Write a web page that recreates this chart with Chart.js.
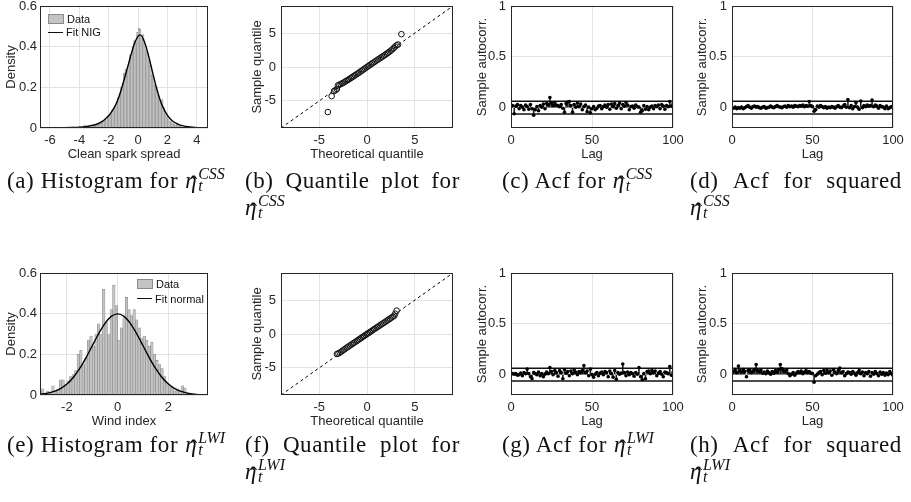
<!DOCTYPE html>
<html>
<head>
<meta charset="utf-8">
<script src="https://cdn.jsdelivr.net/npm/chart.js@4.4.1/dist/chart.umd.min.js"></script>
<style>
  html, body { margin: 0; padding: 0; background: #fff; }
  body { width: 911px; height: 502px; overflow: hidden; position: relative; }
  .pane { position: absolute; }
  .cap { position: absolute; font-family: 'Liberation Serif', 'Times New Roman', serif; font-size: 23px; line-height: 27px; letter-spacing: 0.6px; color: #111; white-space: nowrap; }
  .cap .j { display: flex; justify-content: space-between; }
  .eta { font-style: italic; position: relative; margin-left: 7px; }
  .eta .hat { position: absolute; left: 4.5px; top: 3px; font-style: normal; }
  .ss { display: inline-block; vertical-align: -3px; font-size: 16px; line-height: 12px; font-style: italic; letter-spacing: 0; margin-left: 1px; }
  .ss span { display: block; }
  .leg { position: absolute; font-family: 'Liberation Sans', Arial, sans-serif; font-size: 11px; color: #111; z-index: 5; }
  .leg .li { display: flex; align-items: center; }
  .leg .sw { width: 14px; height: 8px; background: #c4c4c4; border: 0.6px solid #8a8a8a; margin-right: 3px; }
  .leg .ln { width: 15px; height: 1.3px; background: #111; margin-right: 3px; }
</style>
</head>
<body>

<canvas class="pane" id="cA" width="228" height="174" style="left:0px;top:-8px"></canvas>
<canvas class="pane" id="cB" width="227" height="174" style="left:246px;top:-8px"></canvas>
<canvas class="pane" id="cC" width="222" height="174" style="left:471px;top:-8px"></canvas>
<canvas class="pane" id="cD" width="222" height="174" style="left:691px;top:-8px"></canvas>
<canvas class="pane" id="cE" width="228" height="174" style="left:0px;top:259px"></canvas>
<canvas class="pane" id="cF" width="227" height="174" style="left:246px;top:259px"></canvas>
<canvas class="pane" id="cG" width="222" height="174" style="left:471px;top:259px"></canvas>
<canvas class="pane" id="cH" width="222" height="174" style="left:691px;top:259px"></canvas>

<div class="leg" style="left:48px;top:12px">
  <div class="li" style="height:13.5px"><span class="sw"></span>Data</div>
  <div class="li" style="height:13.5px"><span class="ln"></span>Fit NIG</div>
</div>
<div class="leg" style="left:137px;top:277px">
  <div class="li" style="height:14.5px"><span class="sw"></span>Data</div>
  <div class="li" style="height:14.5px"><span class="ln"></span>Fit normal</div>
</div>

<div class="cap" style="left:7px;top:167px">(a) Histogram for<span class="eta">η<span class="hat">ˆ</span></span><span class="ss"><span>CSS</span><span>t</span></span></div>
<div class="cap" style="left:245px;top:167px;width:215px">
  <div class="j"><span>(b)</span><span>Quantile</span><span>plot</span><span>for</span></div>
  <div><span class="eta" style="margin-left:0">η<span class="hat">ˆ</span></span><span class="ss"><span>CSS</span><span>t</span></span></div>
</div>
<div class="cap" style="left:502px;top:167px">(c) Acf for<span class="eta">η<span class="hat">ˆ</span></span><span class="ss"><span>CSS</span><span>t</span></span></div>
<div class="cap" style="left:690px;top:167px;width:212px">
  <div class="j"><span>(d)</span><span>Acf</span><span>for</span><span>squared</span></div>
  <div><span class="eta" style="margin-left:0">η<span class="hat">ˆ</span></span><span class="ss"><span>CSS</span><span>t</span></span></div>
</div>

<div class="cap" style="left:7px;top:431px">(e) Histogram for<span class="eta">η<span class="hat">ˆ</span></span><span class="ss"><span>LWI</span><span>t</span></span></div>
<div class="cap" style="left:245px;top:431px;width:215px">
  <div class="j"><span>(f)</span><span>Quantile</span><span>plot</span><span>for</span></div>
  <div><span class="eta" style="margin-left:0">η<span class="hat">ˆ</span></span><span class="ss"><span>LWI</span><span>t</span></span></div>
</div>
<div class="cap" style="left:502px;top:431px">(g) Acf for<span class="eta">η<span class="hat">ˆ</span></span><span class="ss"><span>LWI</span><span>t</span></span></div>
<div class="cap" style="left:690px;top:431px;width:212px">
  <div class="j"><span>(h)</span><span>Acf</span><span>for</span><span>squared</span></div>
  <div><span class="eta" style="margin-left:0">η<span class="hat">ˆ</span></span><span class="ss"><span>LWI</span><span>t</span></span></div>
</div>

<script>
// ---- data ----
const histCssCenters = [-4.45,-3.65,-3.35,-3.05,-2.95,-2.85,-2.75,-2.65,-2.55,-2.45,-2.35,-2.25,-2.15,-2.05,-1.95,-1.85,-1.75,-1.65,-1.55,-1.45,-1.35,-1.25,-1.15,-1.05,-0.95,-0.85,-0.75,-0.65,-0.55,-0.45,-0.35,-0.25,-0.15,-0.05,0.05,0.15,0.25,0.35,0.45,0.55,0.65,0.75,0.85,0.95,1.05,1.15,1.25,1.35,1.45,1.55,1.65,1.75,1.85,1.95,2.05,2.15,2.25,2.35,2.45,2.55,2.65,2.75,2.85,2.95];
const histCssDensity = [0.006,0.016,0.008,0.008,0.010,0.012,0.015,0.020,0.025,0.030,0.038,0.045,0.040,0.060,0.065,0.070,0.090,0.100,0.110,0.130,0.150,0.170,0.200,0.220,0.270,0.290,0.280,0.310,0.360,0.350,0.400,0.430,0.420,0.470,0.490,0.485,0.440,0.460,0.410,0.380,0.370,0.330,0.310,0.260,0.250,0.210,0.200,0.160,0.140,0.125,0.140,0.100,0.070,0.060,0.045,0.035,0.030,0.025,0.020,0.015,0.020,0.018,0.010,0.006];
const fitNigX = [-6.7,-6,-5.5,-5,-4.5,-4,-3.5,-3,-2.75,-2.5,-2.25,-2,-1.75,-1.5,-1.25,-1,-0.75,-0.5,-0.25,0,0.1,0.25,0.5,0.75,1,1.25,1.5,1.75,2,2.25,2.5,2.75,3,3.5,4,4.75];
const fitNigY = [0,0.0003,0.0006,0.0012,0.0022,0.004,0.008,0.015,0.021,0.03,0.043,0.06,0.085,0.118,0.165,0.225,0.29,0.355,0.415,0.452,0.458,0.452,0.41,0.345,0.27,0.198,0.138,0.094,0.062,0.041,0.027,0.018,0.012,0.005,0.002,0.0006];

const histLwiCenters = [-3.05,-2.95,-2.85,-2.75,-2.65,-2.55,-2.45,-2.35,-2.25,-2.15,-2.05,-1.95,-1.85,-1.75,-1.65,-1.55,-1.45,-1.35,-1.25,-1.15,-1.05,-0.95,-0.85,-0.75,-0.65,-0.55,-0.45,-0.35,-0.25,-0.15,-0.05,0.05,0.15,0.25,0.35,0.45,0.55,0.65,0.75,0.85,0.95,1.05,1.15,1.25,1.35,1.45,1.55,1.65,1.75,1.85,1.95,2.05,2.15,2.25,2.35,2.45,2.55,2.65,2.75];
const histLwiDensity = [0.02,0.03,0.01,0.02,0.01,0.045,0.02,0.03,0.075,0.075,0.05,0.07,0.09,0.10,0.12,0.20,0.22,0.15,0.18,0.27,0.29,0.24,0.30,0.35,0.30,0.52,0.36,0.30,0.42,0.54,0.44,0.27,0.33,0.38,0.48,0.42,0.39,0.42,0.37,0.33,0.28,0.29,0.27,0.24,0.26,0.20,0.17,0.15,0.13,0.09,0.06,0.045,0.04,0.02,0.03,0.02,0.045,0.035,0.01];
const fitNormX = [-3.1,-2.8,-2.5,-2.25,-2,-1.75,-1.5,-1.25,-1,-0.75,-0.5,-0.25,0,0.25,0.5,0.75,1,1.25,1.5,1.75,2,2.25,2.5,2.8,3.1,3.57];
const fitNormY = [0.0033,0.0079,0.0175,0.0317,0.054,0.0863,0.1295,0.1826,0.242,0.3011,0.3521,0.3867,0.3989,0.3867,0.3521,0.3011,0.242,0.1826,0.1295,0.0863,0.054,0.0317,0.0175,0.0079,0.0033,0.0007];

const qqCssTheo   = [-4.1,-3.7,-3.45,-3.3,-3.15,-3.05,-2.9,-2.75,-2.6,-2.45,-2.3,-2.15,-2.0,-1.85,-1.7,-1.55,-1.4,-1.25,-1.1,-0.95,-0.8,-0.65,-0.5,-0.35,-0.2,-0.05,0.1,0.25,0.4,0.55,0.7,0.85,1.0,1.15,1.3,1.45,1.6,1.75,1.9,2.05,2.2,2.35,2.5,2.65,2.8,2.95,3.1,3.25,3.6];
const qqCssSample = [-6.65,-4.3,-3.55,-3.42,-3.25,-2.72,-2.62,-2.52,-2.42,-2.3,-2.17,-2.04,-1.91,-1.78,-1.64,-1.5,-1.36,-1.22,-1.08,-0.94,-0.8,-0.65,-0.5,-0.35,-0.2,-0.05,0.1,0.24,0.39,0.53,0.67,0.82,0.96,1.1,1.24,1.38,1.52,1.66,1.8,1.95,2.1,2.26,2.42,2.6,2.8,3.02,3.2,3.32,4.85];
const qqLwiTheo   = [-3.15,-3.0,-2.85,-2.7,-2.55,-2.4,-2.25,-2.1,-1.95,-1.8,-1.65,-1.5,-1.35,-1.2,-1.05,-0.9,-0.75,-0.6,-0.45,-0.3,-0.15,0,0.15,0.3,0.45,0.6,0.75,0.9,1.05,1.2,1.35,1.5,1.65,1.8,1.95,2.1,2.25,2.4,2.55,2.7,2.85,2.95,3.1];
const qqLwiSample = [-2.95,-2.88,-2.75,-2.6,-2.45,-2.3,-2.15,-2.0,-1.86,-1.72,-1.57,-1.43,-1.29,-1.15,-1.0,-0.86,-0.72,-0.57,-0.43,-0.29,-0.14,0,0.14,0.28,0.42,0.57,0.71,0.85,0.99,1.13,1.27,1.41,1.55,1.69,1.83,1.97,2.12,2.26,2.4,2.55,2.7,3.0,3.45];
const qqRefLine = [-9, 9];

const acfLags = [0,1,2,3,4,5,6,7,8,9,10,11,12,13,14,15,16,17,18,19,20,21,22,23,24,25,26,27,28,29,30,31,32,33,34,35,36,37,38,39,40,41,42,43,44,45,46,47,48,49,50,51,52,53,54,55,56,57,58,59,60,61,62,63,64,65,66,67,68,69,70,71,72,73,74,75,76,77,78,79,80,81,82,83,84,85,86,87,88,89,90,91,92,93,94,95,96,97,98,99,100];
const acfCss = [1,
  0.02,-0.06,0.015,0.03,-0.01,0.02,0.005,-0.02,0.025,0.01,
  -0.015,0.03,-0.01,-0.075,-0.02,0.01,-0.03,0.02,0.005,0.035,
  -0.01,0.04,0.03,0.1,0.045,0.02,0.05,0.025,0.02,0.01,
  0.03,-0.005,-0.045,0.04,0.055,0.06,0.02,-0.045,0.03,0.005,
  0.045,0.01,0.035,-0.02,0.01,0.025,-0.04,0.005,-0.05,-0.01,
  0.01,-0.02,-0.005,0.015,0.02,-0.01,0.01,0.025,0.005,0.03,
  -0.015,0.035,0.01,0.04,-0.005,0.02,0.045,-0.01,0.03,0.015,
  0.05,0.025,-0.02,0.01,0.015,-0.005,0.025,0.01,0.005,-0.045,
  -0.03,0.02,-0.015,0.01,-0.02,0.005,0.015,-0.01,0.02,0.01,
  0.025,-0.01,0.03,0.015,-0.015,0.02,0.01,0.06,0.015,0.035];
const acfCssSq = [1,
  -0.005,0.005,-0.01,0,-0.005,0.005,-0.01,0,0.01,0.02,
  0.005,-0.005,0.01,0.015,0.005,0.01,0,-0.005,0.005,0.01,
  -0.005,0,0.005,0.015,0.005,0,0.01,0.02,0.01,0.005,
  0,0.01,0.015,0.005,0.02,0.01,0.015,0.005,0.02,0.015,
  0.01,0.02,0.015,0.025,0.01,0.02,0.015,0.06,0.02,0.01,
  -0.035,-0.02,0.015,0.005,0.02,0.01,0,0.01,-0.005,0.005,
  0,0.01,0.005,-0.005,0.01,0.02,0.005,0,0.015,0.03,
  0.005,0.08,0,0.02,-0.01,0.01,0.05,0.005,-0.015,0.065,
  0,0.02,0.01,0.025,0.015,0.02,0.075,0.01,0.025,0.015,
  -0.005,0.02,0.01,0.005,-0.01,0.015,-0.01,0,0.01,0];
const acfLwi = [1,
  0.01,0.005,0.01,-0.005,0,0.015,-0.01,0.02,0.01,0.055,
  0.01,-0.02,-0.04,0.02,0.01,0,0.025,-0.01,0.01,-0.02,
  0.005,0.025,0.01,0.07,0.03,0,0.04,0.02,-0.015,0.04,
  0.02,-0.04,0.05,0.015,0.03,-0.01,0.035,0.01,0.045,0.025,
  0,0.03,0.02,0.04,0.09,0.02,0.035,-0.01,0.055,0,
  -0.025,0.005,0.02,-0.01,0.015,0.025,0,0.03,0.02,-0.02,
  0.035,0.01,-0.025,0.04,-0.045,0.02,0.005,0.015,0.105,0.02,
  -0.01,0.025,0,0.02,0.01,-0.015,0.02,0.005,0.07,-0.02,
  -0.05,0.01,-0.04,0.03,0.035,0.01,0.04,0.02,0.035,-0.01,
  0.015,0.03,0.005,-0.02,0.025,0.02,0.01,0.08,-0.005,0.02];
const acfLwiSq = [1,
  0.03,0.045,0.02,0.085,0.04,0.025,0.05,0.03,-0.02,0.04,
  0.045,0.02,0.035,0.05,0.1,0.04,0.03,0.045,0.015,0.025,
  0.01,0.035,0.02,0.005,0.03,0.015,0.04,0.025,0.05,0.1,
  0.06,0.04,0.03,0.045,0.01,-0.01,0.005,0.02,-0.005,0.015,
  0.03,0.02,0.035,0.01,0.025,0.04,0.02,0.03,0.015,0.01,
  -0.075,-0.01,0.005,0.02,0.03,0,0.04,0.015,0.045,0.02,
  0.035,-0.005,0.05,0.025,0.01,0.04,0.065,0.02,0.03,-0.01,
  0.01,0.025,0.02,0.005,0.03,0.015,-0.005,0.02,0.04,0.01,
  0.025,-0.01,0.02,0.01,0.03,-0.015,0.02,0.005,0.03,0.01,
  -0.01,0.025,0.005,0.02,-0.005,0.015,0,0.03,0.01,-0.005];
const acfBound = 0.063;

// tick labels
const histCssTicksX = [-6, -4, -2, 0, 2, 4];
const histLwiTicksX = [-2, 0, 2];
const densityTicks  = [0, 0.2, 0.4, 0.6];
const qqTicks       = [-5, 0, 5];
const lagTicks      = [0, 50, 100];
const acfTicksY     = [0, 0.5, 1];

// ---- drawing ----
const FONT = "'Liberation Sans', Arial, Helvetica, sans-serif";
const INK = '#262626';
const BAR_FILL = '#c4c4c4';
const BAR_EDGE = '#8a8a8a';

// MATLAB style box round the plot area
const framePlugin = {
  id: 'frame',
  afterDatasetsDraw(chart) {
    const { ctx, chartArea: { left, right, top, bottom } } = chart;
    const l = Math.round(left), t = Math.round(top), r = Math.round(right), b = Math.round(bottom);
    ctx.save();
    ctx.strokeStyle = INK;
    ctx.lineWidth = 1;
    ctx.strokeRect(l + 0.5, t + 0.5, r - l - 1, b - t - 1);
    ctx.restore();
  }
};

function axis(min, max, ticks, title, size, pad) {
  return {
    type: 'linear', min, max, offset: false,
    afterBuildTicks: s => { s.ticks = ticks.map(v => ({ value: v })); },
    afterFit: s => { if (s.isHorizontal()) s.height = size; else s.width = size; },
    grid: { color: '#e2e2e2', lineWidth: 1, drawTicks: false, offset: false },
    border: { display: false },
    ticks: { color: INK, padding: pad, autoSkip: false, maxRotation: 0,
             font: { family: FONT, size: 13 }, callback: v => String(v) },
    title: { display: true, text: title, color: INK, padding: { top: 4, bottom: 4 },
             font: { family: FONT, size: 13 } }
  };
}

function makeChart(id, type, datasets, x, y) {
  new Chart(document.getElementById(id), {
    type,
    data: { datasets },
    options: {
      responsive: false,
      animation: false,
      events: [],
      layout: { padding: { left: 0, top: 14, right: 20, bottom: 0 } },
      plugins: { legend: { display: false }, tooltip: { enabled: false } },
      scales: { x, y }
    },
    plugins: [framePlugin]
  });
}

function pairs(xs, ys) { return xs.map((v, i) => ({ x: v, y: ys[i] })); }

function histogram(id, centers, dens, fx, fy, xr, xt, xTitle, wy) {
  makeChart(id, 'bar', [
    { type: 'line', data: pairs(fx, fy), borderColor: '#000', borderWidth: 1.4,
      pointRadius: 0, cubicInterpolationMode: 'monotone', order: 0 },
    { type: 'bar', data: pairs(centers, dens), backgroundColor: BAR_FILL, borderColor: BAR_EDGE,
      borderWidth: 0.6, barPercentage: 1, categoryPercentage: 1, order: 1 }
  ], axis(xr[0], xr[1], xt, xTitle, 38, 5), axis(0, 0.6, densityTicks, 'Density', wy, 3));
}

function qqplot(id, theo, sample, wy) {
  makeChart(id, 'scatter', [
    { type: 'line', data: pairs(qqRefLine, qqRefLine), borderColor: '#000', borderWidth: 1,
      borderDash: [3, 3], pointRadius: 0, showLine: true, order: 1 },
    { type: 'scatter', data: pairs(theo, sample), pointStyle: 'circle', pointRadius: 2.8,
      borderColor: '#111', backgroundColor: 'rgba(0,0,0,0)', borderWidth: 1, order: 0 }
  ], axis(-9, 9, qqTicks, 'Theoretical quantile', 38, 5), axis(-9, 9, qqTicks, 'Sample quantile', wy, 5));
}

function acfplot(id, vals, wy) {
  const bound = v => [{ x: acfLags[0], y: v }, { x: acfLags[acfLags.length - 1], y: v }];
  makeChart(id, 'bar', [
    { type: 'scatter', data: pairs(acfLags, vals), pointRadius: 1.8, backgroundColor: '#000',
      borderWidth: 0, order: 0 },
    { type: 'line', data: bound(acfBound), borderColor: '#111', borderWidth: 1.5, pointRadius: 0, order: 1 },
    { type: 'line', data: bound(-acfBound), borderColor: '#111', borderWidth: 1.5, pointRadius: 0, order: 1 },
    { type: 'bar', data: pairs(acfLags, vals), backgroundColor: '#222', barThickness: 1, order: 2 }
  ], axis(0, 100, lagTicks, 'Lag', 38, 5), axis(-0.2, 1, acfTicksY, 'Sample autocorr.', wy, 5));
}

histogram('cA', histCssCenters, histCssDensity, fitNigX, fitNigY, [-6.68, 4.76], histCssTicksX, 'Clean spark spread', 40);
qqplot('cB', qqCssTheo, qqCssSample, 35);
acfplot('cC', acfCss, 40);
acfplot('cD', acfCssSq, 41);
histogram('cE', histLwiCenters, histLwiDensity, fitNormX, fitNormY, [-3.06, 3.56], histLwiTicksX, 'Wind index', 40);
qqplot('cF', qqLwiTheo, qqLwiSample, 35);
acfplot('cG', acfLwi, 40);
acfplot('cH', acfLwiSq, 41);
</script>
</body>
</html>
